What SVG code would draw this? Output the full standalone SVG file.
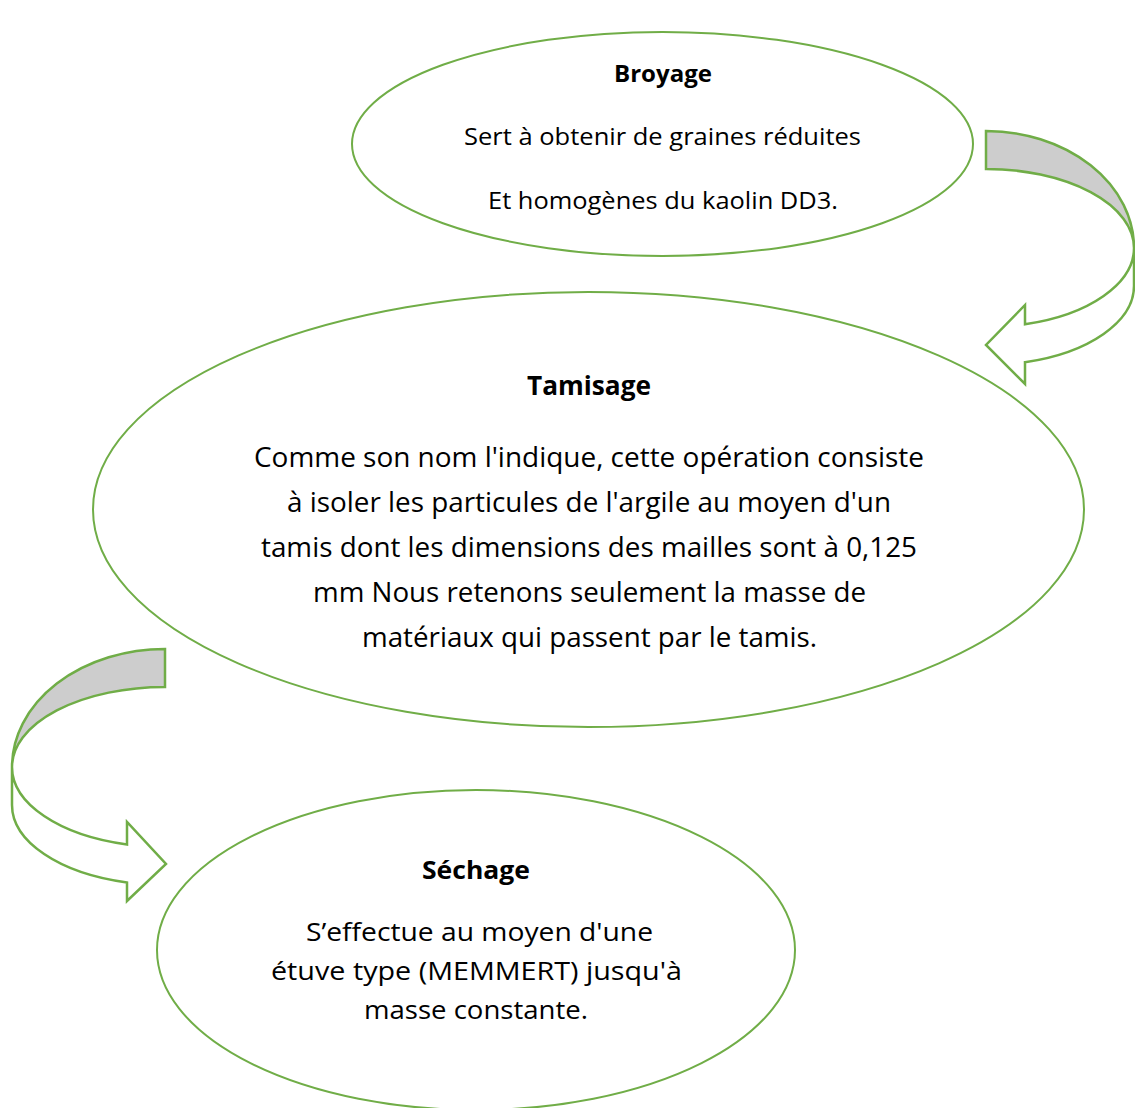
<svg xmlns="http://www.w3.org/2000/svg" width="1135" height="1108" viewBox="0 0 1135 1108">
<style>
.node{fill:#FFFFFF;stroke:#70AD47;stroke-width:2}
.back{fill:#CDCDCD;stroke:#70AD47;stroke-width:2.5;stroke-linejoin:miter}
.front{fill:#FFFFFF;stroke:#70AD47;stroke-width:2.5;stroke-linejoin:miter}
text{font-family:"Open Sans","Liberation Sans",sans-serif;fill:#000000;text-anchor:middle}
.t{font-weight:bold}
</style>
<rect x="0" y="0" width="1135" height="1108" fill="#FFFFFF"/>
<g id="connectors">
<g id="arrow-broyage-tamisage">
<path class="back" d="M 986 131 A 148 117 0 0 1 1134 248 A 148 79 0 0 0 986 169 Z"/>
<path class="front" d="M 1134 248 A 148 79 0 0 1 1025 324.2 L 1025 305 L 986 345 L 1025 384 L 1025 362.2 A 148 79 0 0 0 1134 286 Z"/>
</g>
<g id="arrow-tamisage-sechage">
<path class="back" d="M 165 649 A 153 118 0 0 0 12 767 A 153 80 0 0 1 165 687 Z"/>
<path class="front" d="M 12 767 A 153 80 0 0 0 127 844.5 L 127 822 L 166 864 L 127 901 L 127 882.5 A 153 80 0 0 1 12 805 Z"/>
</g>
</g>
<g id="node-broyage">
<ellipse class="node" cx="662.5" cy="144" rx="310.5" ry="112"/>
<text class="t" x="663" y="82" font-size="23" textLength="98" lengthAdjust="spacingAndGlyphs">Broyage</text>
<text x="662.5" y="145" font-size="24" textLength="397" lengthAdjust="spacingAndGlyphs">Sert à obtenir de graines réduites</text>
<text x="663" y="209" font-size="24" textLength="350" lengthAdjust="spacingAndGlyphs">Et homogènes du kaolin DD3.</text>
</g>
<g id="node-tamisage">
<ellipse class="node" cx="588.5" cy="509.5" rx="495.5" ry="217.5"/>
<text class="t" x="589" y="395" font-size="27" textLength="124" lengthAdjust="spacingAndGlyphs">Tamisage</text>
<text x="589" y="467" font-size="28" textLength="670" lengthAdjust="spacingAndGlyphs">Comme son nom l'indique, cette opération consiste</text>
<text x="589" y="512" font-size="28" textLength="604" lengthAdjust="spacingAndGlyphs">à isoler les particules de l'argile au moyen d'un</text>
<text x="589" y="557" font-size="28" textLength="656" lengthAdjust="spacingAndGlyphs">tamis dont les dimensions des mailles sont à 0,125</text>
<text x="589.5" y="602" font-size="28" textLength="553" lengthAdjust="spacingAndGlyphs">mm Nous retenons seulement la masse de</text>
<text x="589.5" y="647" font-size="28" textLength="455" lengthAdjust="spacingAndGlyphs">matériaux qui passent par le tamis.</text>
</g>
<g id="node-sechage">
<ellipse class="node" cx="476" cy="950" rx="319" ry="160"/>
<text class="t" x="476" y="879" font-size="25" textLength="108" lengthAdjust="spacingAndGlyphs">Séchage</text>
<text x="479.5" y="941" font-size="26" textLength="347" lengthAdjust="spacingAndGlyphs">S’effectue au moyen d'une</text>
<text x="476.5" y="980" font-size="26" textLength="411" lengthAdjust="spacingAndGlyphs">étuve type (MEMMERT) jusqu'à</text>
<text x="476" y="1019" font-size="26" textLength="224" lengthAdjust="spacingAndGlyphs">masse constante.</text>
</g>
</svg>
